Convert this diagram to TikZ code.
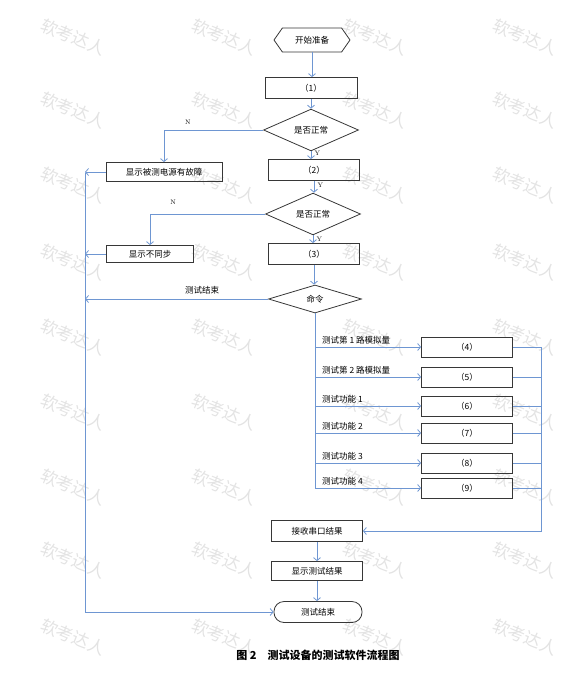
\documentclass[tikz,border=0pt]{standalone}
\usepackage{fontspec}
\newfontfamily\cjk{Noto Sans CJK SC}
\usepackage{xcolor}
\usepackage{tikz}
\usetikzlibrary{arrows.meta,shapes.geometric,shapes.symbols}
\definecolor{flowblue}{RGB}{110,150,210}
\definecolor{boxline}{RGB}{55,55,55}

\begin{document}
\begin{tikzpicture}[x=1pt,y=-1pt,>={Straight Barb[length=3pt,width=7pt]},
  every node/.style={font=\cjk\fontsize{8.5}{10}\selectfont},
  box/.style={draw=boxline,line width=0.8pt,inner sep=0pt,minimum width=91pt,minimum height=21pt},
  decide/.style={draw=boxline,line width=0.8pt,shape=diamond,inner sep=0pt,minimum width=95pt,minimum height=27pt},
  flow/.style={draw=flowblue,line width=0.8pt},
  yn/.style={font=\rmfamily\fontsize{6.5}{7}\selectfont},
  wmark/.style={font=\cjk\fontsize{17}{17}\selectfont,text=gray!22,rotate=-22,inner sep=0pt}]
\useasboundingbox (0,0) rectangle (564,678);
% watermark
\foreach \x in {73,224,375,525}
  \foreach \y in {37,110,185,262,337,412,487,560,637}
    \node[wmark] at (\x,\y) {软考达人};
% main column
\node[draw=boxline,line width=0.8pt,shape=signal,signal to=east and west,signal pointer angle=110,
  inner sep=0pt,minimum width=76pt,minimum height=24pt] (start) at (312,40) {开始准备};
\node[box,minimum width=92pt] (b1) at (311,88) {（1）};
\node[decide] (q1) at (311,130) {是否正常};
\node[box] (b2) at (314,170) {（2）};
\node[decide,minimum height=28pt] (q2) at (313,214) {是否正常};
\node[box] (b3) at (314,254) {（3）};
\node[decide,minimum width=93pt,minimum height=28pt] (cmd) at (315,299) {命令};
% error boxes
\node[box,minimum width=116pt,minimum height=19pt] (fault) at (164,172) {显示被测电源有故障};
\node[box,minimum width=87pt,minimum height=17pt] (nosync) at (150,254) {显示不同步};
% test boxes
\node[box,minimum height=20pt] (b4) at (467,347) {（4）};
\node[box,minimum height=20pt] (b5) at (467,377) {（5）};
\node[box,minimum height=20pt] (b6) at (467,406) {（6）};
\node[box,minimum height=20pt] (b7) at (467,433) {（7）};
\node[box,minimum height=20pt] (b8) at (467,463) {（8）};
\node[box,minimum height=20pt] (b9) at (467,488) {（9）};
% bottom
\node[box] (recv) at (317,531) {接收串口结果};
\node[box,minimum height=19pt] (show) at (317,571) {显示测试结果};
\node[draw=boxline,line width=0.8pt,rounded corners=10pt,inner sep=0pt,minimum width=88pt,minimum height=21pt]
  (endnode) at (318,612) {测试结束};
\coordinate (ltop) at (85,173);
\coordinate (lbot) at (85,612);
\coordinate (rtop) at (541,347);
% connectors
\draw[flow,->] (start.south) -- (start.south |- b1.north);
\draw[flow,->] (b1.south) -- (b1.south |- q1.north);
\draw[flow,->] (q1.south) -- (q1.south |- b2.north) node[yn,pos=0.3,right]{Y};
\draw[flow,->] (b2.south) -- (b2.south |- q2.north) node[yn,pos=0.4,right]{Y};
\draw[flow,->] (q2.south) -- (q2.south |- b3.north) node[yn,pos=0.5,right]{Y};
\draw[flow,->] (b3.south) -- (b3.south |- cmd.north);
\draw[flow,->] (q1.west) -| (fault.north) node[yn,pos=0.38,above=2pt]{N};
\draw[flow,->] (q2.west) -| (nosync.north) node[yn,pos=0.4,above=6pt]{N};
\draw[flow] (ltop) -- (lbot);
\draw[flow,->] (fault.west) -- (fault.west -| ltop);
\draw[flow,->] (nosync.west) -- (nosync.west -| ltop);
\draw[flow,->] (cmd.west) -- (cmd.west -| ltop) node[pos=0.36,above=1pt]{测试结束};
\draw[flow,->] (lbot) -- (endnode.west);
% branches
\draw[flow] (cmd.south) -- (cmd.south |- b9.west);
\foreach \n/\t in {4/测试第 1 路模拟量,5/测试第 2 路模拟量,6/测试功能 1,7/测试功能 2,8/测试功能 3,9/测试功能 4}{
  \draw[flow,->] (cmd.south |- b\n.west) -- (b\n.west);
  \path (cmd.south |- b\n.west) ++(7,-4) node[anchor=base west,inner sep=0pt]{\t};
  \draw[flow] (b\n.east) -- (b\n.east -| rtop);
}
\draw[flow,->] (rtop) |- (recv.east);
\draw[flow,->] (recv.south) -- (recv.south |- show.north);
\draw[flow,->] (show.south) -- (show.south |- endnode.north);
% caption
\node[font=\cjk\bfseries\fontsize{11}{13}\selectfont] (title) at (318,655) {图 2\quad 测试设备的测试软件流程图};
\end{tikzpicture}
\end{document}
